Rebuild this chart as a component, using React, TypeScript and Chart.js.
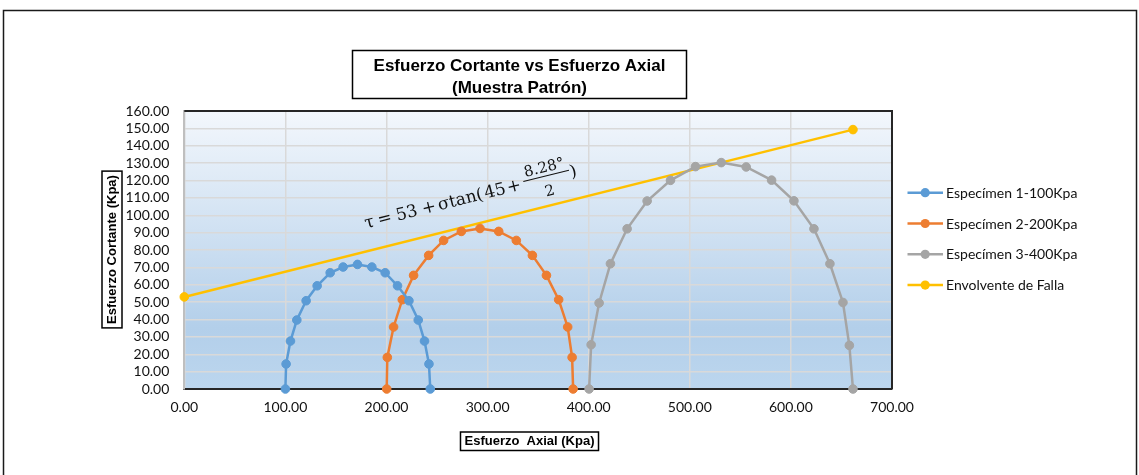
import React, { useEffect, useRef } from "react";
import { Chart, registerables } from "chart.js";

Chart.register(...registerables);

// ---------------- data ----------------
const seriesNames = [
  "Especímen 1-100Kpa",
  "Especímen 2-200Kpa",
  "Especímen 3-400Kpa",
  "Envolvente de Falla",
];
const seriesColors = ["#5b9bd5", "#ed7d31", "#a5a5a5", "#ffc000"];

const blueX = [100, 100.7, 105, 111.3, 120.5, 131.4, 144.3, 157.1, 171.3, 185.5, 198.7, 210.9, 222.2, 231.4, 237.6, 242, 243.3];
const blueY = [0, 14.4, 27.6, 39.7, 50.8, 59.4, 66.9, 70.2, 71.7, 70.2, 66.9, 59.4, 50.8, 39.7, 27.6, 14.4, 0];

const orangeX = [200.2, 200.8, 207, 215.6, 226.8, 241.7, 256.5, 274, 292.5, 311, 328.4, 344.3, 358.2, 370.3, 379.2, 383.6, 384.6];
const orangeY = [0, 18.2, 35.7, 51.4, 65.4, 76.9, 85.5, 90.7, 92.4, 90.7, 85.5, 76.9, 65.4, 51.4, 35.7, 18.2, 0];

const greyX = [400.4, 402.4, 410.3, 421.5, 438, 457.8, 480.9, 505.6, 531.1, 555.8, 580.9, 603, 622.8, 638.6, 651.5, 657.8, 661.4];
const greyY = [0, 25.5, 49.5, 72.1, 92.2, 108.2, 120.1, 128, 130.3, 127.8, 120.2, 108.3, 92.2, 72.1, 49.8, 25.1, 0];

const envX = [0, 661.4];
const envY = [53, 149.3];

const titleLines = ["Esfuerzo Cortante vs Esfuerzo Axial", "(Muestra Patrón)"];
const yTitle = "Esfuerzo Cortante (Kpa)";
const xTitle = "Esfuerzo  Axial (Kpa)";
const eqTokens = ["τ", "=", "53", "+", "σtan(", "45", "+"];
const eqNum = "8.28°";
const eqDen = "2";
const eqClose = ")";

const xMin = 0, xMax = 700, xStep = 100;
const yMin = 0, yMax = 160, yStep = 10;

// ---------------- helpers ----------------
const toPts = (xs: number[], ys: number[]) => xs.map((x, i) => ({ x, y: ys[i] }));

// token placement along the rotated baseline: [position, align]
const eqLayout: [number, CanvasTextAlign][] = [
  [0, "left"],
  [20.6, "center"],
  [32.4, "left"],
  [66, "center"],
  [75.4, "left"],
  [123.5, "left"],
  [153.7, "center"],
];

const decor = {
  id: "decor",
  beforeDraw(chart: any) {
    const { ctx, chartArea: a } = chart;
    ctx.save();
    const g = ctx.createLinearGradient(0, a.top, 0, a.bottom);
    g.addColorStop(0, "#f3f7fc");
    g.addColorStop(0.78, "#b3cfea");
    g.addColorStop(1, "#bcd6ee");
    ctx.fillStyle = g;
    ctx.fillRect(a.left, a.top, a.right - a.left, a.bottom - a.top);
    ctx.restore();
  },
  beforeDatasetsDraw(chart: any) {
    const { ctx, chartArea: a } = chart;
    ctx.save();
    ctx.strokeStyle = "#262626";
    ctx.lineWidth = 2;
    ctx.beginPath();
    ctx.moveTo(a.left, a.top);
    ctx.lineTo(a.right, a.top);
    ctx.lineTo(a.right, a.bottom);
    ctx.stroke();
    ctx.restore();
  },
  afterDraw(chart: any) {
    const { ctx } = chart;
    ctx.save();
    // outer frame
    ctx.strokeStyle = "#1a1a1a";
    ctx.lineWidth = 1.5;
    ctx.strokeRect(3.5, 10.5, 1133, 500);

    // title
    ctx.fillStyle = "#000";
    ctx.font = 'bold 17px "Liberation Sans", Arial, sans-serif';
    ctx.textAlign = "center";
    ctx.textBaseline = "alphabetic";
    ctx.fillText(titleLines[0], 519.5, 70.5);
    ctx.fillText(titleLines[1], 519.5, 93);
    ctx.lineWidth = 1.5;
    ctx.strokeStyle = "#000";
    ctx.strokeRect(352.5, 50.5, 334, 48);

    // y axis title
    ctx.font = 'bold 13px "Liberation Sans", Arial, sans-serif';
    const yw = ctx.measureText(yTitle).width;
    ctx.save();
    ctx.translate(112, 249.5);
    ctx.rotate(-Math.PI / 2);
    ctx.textBaseline = "middle";
    ctx.fillText(yTitle, 0, 0.5);
    ctx.strokeRect(-yw / 2 - 4, -10, yw + 8, 20);
    ctx.restore();

    // x axis title
    const xw = ctx.measureText(xTitle).width;
    ctx.textBaseline = "middle";
    ctx.fillText(xTitle, 529.5, 441.5);
    ctx.strokeRect(529.5 - xw / 2 - 4, 432, xw + 8, 18.5);

    // legend
    ctx.font = '14px Lato, "Open Sans", sans-serif';
    ctx.textAlign = "left";
    ctx.textBaseline = "middle";
    seriesNames.forEach((name, i) => {
      const y = 192.7 + i * 30.8;
      ctx.strokeStyle = seriesColors[i];
      ctx.lineWidth = 2.5;
      ctx.beginPath();
      ctx.moveTo(907.5, y);
      ctx.lineTo(943, y);
      ctx.stroke();
      ctx.fillStyle = seriesColors[i];
      ctx.beginPath();
      ctx.arc(925.2, y, 4.6, 0, Math.PI * 2);
      ctx.fill();
      ctx.fillStyle = "#111";
      ctx.fillText(name, 946, y + 0.5);
    });

    // equation annotation
    ctx.save();
    ctx.translate(366, 228.5);
    ctx.rotate((-14 * Math.PI) / 180);
    ctx.font = '17px "DejaVu Serif", "Liberation Serif", serif';
    ctx.fillStyle = "#111";
    ctx.textBaseline = "alphabetic";
    eqTokens.forEach((t, i) => {
      ctx.textAlign = eqLayout[i][1];
      ctx.fillText(t, eqLayout[i][0], 0);
    });
    ctx.textAlign = "left";
    ctx.fillText(eqClose, 211.5, 0);
    ctx.font = '15px "DejaVu Serif", "Liberation Serif", serif';
    ctx.textAlign = "center";
    ctx.fillText(eqNum, 187.5, -11.5);
    ctx.fillText(eqDen, 187.5, 12.5);
    ctx.strokeStyle = "#111";
    ctx.lineWidth = 1;
    ctx.beginPath();
    ctx.moveTo(164, -7.5);
    ctx.lineTo(211, -7.5);
    ctx.stroke();
    ctx.restore();

    ctx.restore();
  },
};

export default function App() {
  const ref = useRef<HTMLCanvasElement | null>(null);
  useEffect(() => {
    if (!ref.current) return;
    const mk = (i: number, xs: number[], ys: number[]) => ({
      label: seriesNames[i],
      data: toPts(xs, ys),
      showLine: true,
      borderColor: seriesColors[i],
      backgroundColor: seriesColors[i],
      pointBackgroundColor: seriesColors[i],
      pointBorderColor: seriesColors[i],
      borderWidth: 2.5,
      pointRadius: 4.3,
      pointBorderWidth: 1,
      clip: false as any,
      tension: 0,
    });
    const tickFont = { family: 'Lato, "Open Sans", sans-serif', size: 14 };
    const chart = new Chart(ref.current, {
      type: "scatter",
      data: {
        datasets: [
          mk(0, blueX, blueY),
          mk(1, orangeX, orangeY),
          mk(2, greyX, greyY),
          mk(3, envX, envY),
        ],
      },
      options: {
        animation: false,
        responsive: false,
        devicePixelRatio: 1,
        layout: { padding: { left: 0, top: 111, right: 247, bottom: 0 } },
        plugins: { legend: { display: false }, title: { display: false }, tooltip: { enabled: false } },
        scales: {
          x: {
            type: "linear",
            min: xMin,
            max: xMax,
            ticks: {
              stepSize: xStep,
              autoSkip: false,
              maxRotation: 0,
              padding: 10,
              color: "#111",
              font: tickFont,
              callback: (v: any) => Number(v).toFixed(2),
            },
            grid: { color: "#d9d9d9", lineWidth: 1.5, drawTicks: false },
            border: { color: "#262626", width: 2 },
            afterFit: (s: any) => { s.height = 86; },
          },
          y: {
            type: "linear",
            min: yMin,
            max: yMax,
            ticks: {
              stepSize: yStep,
              autoSkip: false,
              padding: 15,
              color: "#111",
              font: tickFont,
              callback: (v: any) => Number(v).toFixed(2),
            },
            grid: { color: "#d9d9d9", lineWidth: 1.5, drawTicks: false },
            border: { color: "#bfbfbf", width: 2 },
            afterFit: (s: any) => { s.width = 184.3; },
          },
        },
      },
      plugins: [decor],
    } as any);
    return () => chart.destroy();
  }, []);
  return (
    <div style={{ position: "absolute", left: 0, top: 0, width: 1139, height: 475, background: "#fff" }}>
      <canvas ref={ref} width={1139} height={475} style={{ display: "block" }} />
    </div>
  );
}
